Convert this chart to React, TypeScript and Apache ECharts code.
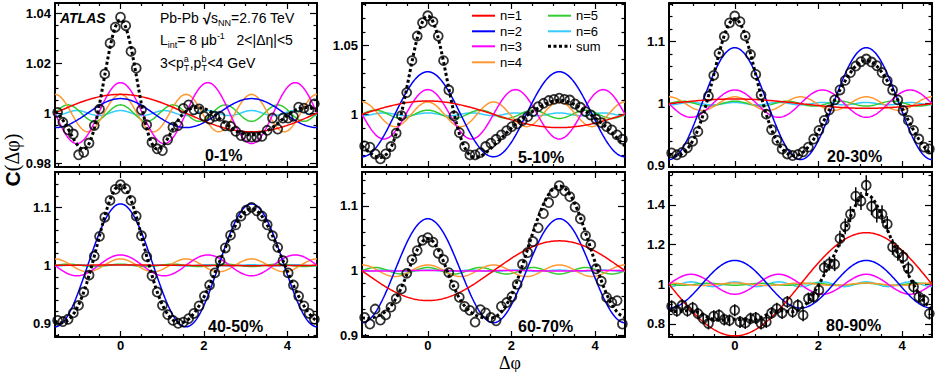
import React, { useEffect, useRef } from "react";
import * as echarts from "echarts";

const FONT = '"Liberation Sans", Arial, Helvetica, sans-serif';
const SERIF = '"Liberation Serif", "Times New Roman", serif';

// ---------------- data ----------------
const PHI_MIN = -Math.PI / 2;
const PHI_MAX = (3 * Math.PI) / 2;
const N_BINS = 50;
const dphiBins = Array.from({ length: N_BINS }, (_, i) => PHI_MIN + ((i + 0.5) * 2 * Math.PI) / N_BINS);

const centralityLabels = ["0-1%", "5-10%", "20-30%", "40-50%", "60-70%", "80-90%"];
const harmonicLabels = ["n=1", "n=2", "n=3", "n=4", "n=5", "n=6"];
const sumLabel = "sum";
const xTickValues = [0, 2, 4];

// measured correlation C(Δφ), 50 bins in [-π/2, 3π/2]
const c0_1 = [
  1.0003, 0.9963, 0.9933, 0.9916, 0.9833, 0.9843, 0.988, 0.995, 1.0016, 1.0157,
  1.028, 1.0344, 1.0384, 1.035, 1.0247, 1.018, 1.0013, 0.9953, 0.9883, 0.9857,
  0.985, 0.9893, 0.9943, 0.995, 1.0019, 1.0033, 1.0013, 1.0017, 0.9987, 0.9976,
  0.9987, 0.9987, 0.9949, 0.9947, 0.9927, 0.991, 0.9904, 0.9904, 0.9904, 0.9907,
  0.9931, 0.998, 0.9936, 0.998, 0.998, 0.9987, 1.0024, 1.002, 1.0013, 1.0037,
];
const c5_10 = [
  0.9769, 0.976, 0.9711, 0.9675, 0.9711, 0.9765, 0.9862, 0.999, 1.0158, 1.0391,
  1.057, 1.0667, 1.0718, 1.0675, 1.057, 1.0391, 1.0177, 0.9988, 0.9867, 0.9765,
  0.9704, 0.9704, 0.9721, 0.9765, 0.9789, 0.9818, 0.985, 0.9881, 0.991, 0.993,
  0.9954, 0.9983, 1.0019, 1.0056, 1.008, 1.01, 1.0109, 1.0117, 1.0109, 1.0104,
  1.0075, 1.0051, 1.0019, 0.9995, 0.9964, 0.9939, 0.991, 0.9886, 0.985, 0.9818,
];
const c20_30 = [
  0.9207, 0.9176, 0.9215, 0.929, 0.9395, 0.955, 0.979, 1.012, 1.0455, 1.081,
  1.108, 1.13, 1.141, 1.132, 1.109, 1.079, 1.047, 1.014, 0.983, 0.958,
  0.941, 0.927, 0.919, 0.9165, 0.918, 0.9225, 0.93, 0.943, 0.957, 0.973,
  0.99, 1.006, 1.022, 1.0375, 1.05, 1.0605, 1.0675, 1.0718, 1.067, 1.061,
  1.05, 1.037, 1.022, 1.006, 0.989, 0.973, 0.957, 0.943, 0.93, 0.927,
];
const c40_50 = [
  0.905, 0.903, 0.907, 0.918, 0.931, 0.954, 0.983, 1.016, 1.05, 1.083,
  1.112, 1.131, 1.139, 1.132, 1.112, 1.085, 1.051, 1.015, 0.982, 0.954,
  0.931, 0.915, 0.905, 0.9, 0.902, 0.908, 0.917, 0.93, 0.947, 0.966,
  0.987, 1.008, 1.03, 1.052, 1.07, 1.085, 1.095, 1.1, 1.094, 1.085,
  1.07, 1.051, 1.031, 1.008, 0.987, 0.966, 0.947, 0.93, 0.917, 0.907,
];
const c60_70 = [
  0.928, 0.918, 0.941, 0.924, 0.932, 0.944, 0.957, 0.972, 0.996, 1.017,
  1.031, 1.047, 1.051, 1.044, 1.027, 1.017, 0.997, 0.977, 0.959, 0.945,
  0.939, 0.921, 0.94, 0.935, 0.928, 0.923, 0.945, 0.951, 0.96, 0.979,
  1.01, 1.028, 1.045, 1.066, 1.088, 1.105, 1.12, 1.131, 1.123, 1.114,
  1.098, 1.08, 1.054, 1.04, 1.003, 0.984, 0.959, 0.951, 0.954, 0.918,
];
const c80_90 = [
  0.889, 0.866, 0.894, 0.866, 0.881, 0.852, 0.827, 0.802, 0.839, 0.844,
  0.822, 0.818, 0.869, 0.81, 0.805, 0.827, 0.83, 0.802, 0.81, 0.855,
  0.877, 0.855, 0.911, 0.861, 0.894, 0.844, 0.928, 0.936, 0.97, 1.084,
  1.104, 1.101, 1.23, 1.292, 1.353, 1.444, 1.42, 1.499, 1.393, 1.356,
  1.353, 1.303, 1.188, 1.158, 1.138, 1.079, 0.987, 0.936, 0.919, 0.852,
];
const err80_90 = [
  0.03, 0.03, 0.03, 0.03, 0.03, 0.03, 0.03, 0.03, 0.03, 0.03,
  0.03, 0.03, 0.03, 0.03, 0.03, 0.03, 0.03, 0.03, 0.03, 0.03,
  0.03, 0.03, 0.03, 0.03, 0.03, 0.03, 0.03, 0.03, 0.035, 0.035,
  0.035, 0.035, 0.04, 0.04, 0.04, 0.045, 0.045, 0.05, 0.045, 0.045,
  0.045, 0.04, 0.04, 0.04, 0.035, 0.035, 0.035, 0.03, 0.03, 0.03,
];

// Fourier amplitudes 2v_{n,n} for n = 1..6 (component = 1 + a_n cos(nΔφ))
const amp0_1 = [0.0075, 0.0058, 0.0122, 0.0075, 0.0033, 0.001];
const amp5_10 = [0.0097, 0.031, 0.018, 0.009, 0.003, 0.001];
const amp20_30 = [0.0075, 0.09, 0.022, 0.011, 0.004, 0.002];
const amp40_50 = [0.0005, 0.106, 0.018, 0.011, 0.002, 0.001];
const amp60_70 = [-0.046, 0.08, 0.0005, 0.009, 0.005, 0.001];
const amp80_90 = [-0.26, 0.12, -0.05, 0.006, -0.005, 0.012];

// y-axis tick labels
const yTicks0_1 = [0.98, 1, 1.02, 1.04];
const yTicks5_10 = [1, 1.05];
const yTicks20_30 = [0.9, 1, 1.1];
const yTicks40_50 = [0.9, 1, 1.1];
const yTicks60_70 = [0.9, 1, 1.1];
const yTicks80_90 = [0.8, 1, 1.2, 1.4];

// ---------------- layout / style ----------------
const yRanges = [
  [0.9784, 1.0441],
  [0.9616, 1.0811],
  [0.898, 1.162],
  [0.8764, 1.161],
  [0.898, 1.152],
  [0.734, 1.566],
];
const yMinorSteps = [0.005, 0.01, 0.02, 0.02, 0.02, 0.05];
const gridBoxes = [
  { left: 55, top: 3, width: 262, height: 164 },
  { left: 362, top: 3, width: 263, height: 164 },
  { left: 669, top: 3, width: 263, height: 164 },
  { left: 55, top: 172, width: 262, height: 165 },
  { left: 362, top: 172, width: 263, height: 165 },
  { left: 669, top: 172, width: 263, height: 165 },
];
const labelPos = [
  [205, 155],
  [518, 157],
  [827, 156],
  [208, 326],
  [518, 326],
  [826, 325],
];
const harmonicColors = ["#ff0000", "#0000ff", "#ff00ff", "#ff9933", "#33cc33", "#33ccff"];

function minorValues(lo: number, hi: number, step: number, majors: number[]) {
  const out: number[] = [];
  const k0 = Math.ceil(lo / step - 1e-9);
  const k1 = Math.floor(hi / step + 1e-9);
  for (let k = k0; k <= k1; k++) {
    const v = +(k * step).toFixed(6);
    if (!majors.some((m) => Math.abs(m - v) < 1e-9)) out.push(v);
  }
  return out;
}

function buildOption() {
  const panelValues = [c0_1, c5_10, c20_30, c40_50, c60_70, c80_90];
  const panelAmps = [amp0_1, amp5_10, amp20_30, amp40_50, amp60_70, amp80_90];
  const panelYTicks = [yTicks0_1, yTicks5_10, yTicks20_30, yTicks40_50, yTicks60_70, yTicks80_90];
  const panelErr: (number[] | null)[] = [null, null, null, null, null, err80_90];

  const xMinor = minorValues(PHI_MIN, PHI_MAX, 0.5, xTickValues);
  const NS = 241;
  const xs = Array.from({ length: NS }, (_, j) => PHI_MIN + (j * (PHI_MAX - PHI_MIN)) / (NS - 1));

  const tickStyle = { color: "#000", width: 1.2 };
  const frameStyle = { color: "#000", width: 2 };
  const labelStyle = { color: "#000", fontSize: 13, fontWeight: "bold", fontFamily: FONT };

  const grid: any[] = [];
  const xAxis: any[] = [];
  const yAxis: any[] = [];
  const series: any[] = [];

  for (let g = 0; g < 6; g++) {
    grid.push({ ...gridBoxes[g], containLabel: false, outerBoundsMode: "none" });
    const bottomRow = g >= 3;
    const xCommon = { type: "value", gridIndex: g, min: PHI_MIN, max: PHI_MAX, splitLine: { show: false } };
    xAxis.push(
      {
        ...xCommon,
        position: "bottom",
        axisLine: { show: true, onZero: false, lineStyle: frameStyle },
        axisTick: { show: true, inside: true, length: 6, lineStyle: tickStyle, customValues: xTickValues },
        axisLabel: { show: bottomRow, customValues: xTickValues, margin: 2, lineHeight: 13, ...labelStyle },
      },
      {
        ...xCommon,
        position: "bottom",
        axisLine: { show: false, onZero: false },
        axisTick: { show: true, inside: true, length: 3, lineStyle: tickStyle, customValues: xMinor },
        axisLabel: { show: false },
      },
      {
        ...xCommon,
        position: "top",
        axisLine: { show: true, onZero: false, lineStyle: frameStyle },
        axisTick: { show: true, inside: true, length: 6, lineStyle: tickStyle, customValues: xTickValues },
        axisLabel: { show: false },
      },
      {
        ...xCommon,
        position: "top",
        axisLine: { show: false, onZero: false },
        axisTick: { show: true, inside: true, length: 3, lineStyle: tickStyle, customValues: xMinor },
        axisLabel: { show: false },
      }
    );
    const [ymin, ymax] = yRanges[g];
    const yMaj = panelYTicks[g];
    const yMin = minorValues(ymin, ymax, yMinorSteps[g], yMaj);
    const yCommon = { type: "value", gridIndex: g, min: ymin, max: ymax, splitLine: { show: false } };
    yAxis.push(
      {
        ...yCommon,
        position: "left",
        axisLine: { show: true, onZero: false, lineStyle: frameStyle },
        axisTick: { show: true, inside: true, length: 7, lineStyle: tickStyle, customValues: yMaj },
        axisLabel: { show: true, customValues: yMaj, margin: 4, ...labelStyle },
      },
      {
        ...yCommon,
        position: "left",
        axisLine: { show: false, onZero: false },
        axisTick: { show: true, inside: true, length: 3.5, lineStyle: tickStyle, customValues: yMin },
        axisLabel: { show: false },
      },
      {
        ...yCommon,
        position: "right",
        axisLine: { show: true, onZero: false, lineStyle: frameStyle },
        axisTick: { show: true, inside: true, length: 7, lineStyle: tickStyle, customValues: yMaj },
        axisLabel: { show: false },
      },
      {
        ...yCommon,
        position: "right",
        axisLine: { show: false, onZero: false },
        axisTick: { show: true, inside: true, length: 3.5, lineStyle: tickStyle, customValues: yMin },
        axisLabel: { show: false },
      }
    );

    const amps = panelAmps[g];
    const axisIdx = { xAxisIndex: 4 * g, yAxisIndex: 4 * g };
    for (let n = 6; n >= 1; n--) {
      const a = amps[n - 1];
      series.push({
        type: "line",
        name: harmonicLabels[n - 1],
        ...axisIdx,
        data: xs.map((x) => [x, 1 + a * Math.cos(n * x)]),
        showSymbol: false,
        symbol: "none",
        silent: true,
        lineStyle: { color: harmonicColors[n - 1], width: 1.5 },
        z: 2,
      });
    }
    series.push({
      type: "line",
      name: sumLabel,
      ...axisIdx,
      data: xs.map((x) => {
        let s = 1;
        for (let n = 1; n <= 6; n++) s += amps[n - 1] * Math.cos(n * x);
        return [x, s];
      }),
      showSymbol: false,
      symbol: "none",
      silent: true,
      lineStyle: { color: "#000", width: 3, type: [3, 2.5] },
      z: 3,
    });
    const vals = panelValues[g];
    const errs = panelErr[g];
    if (errs) {
      series.push({
        type: "custom",
        coordinateSystem: "cartesian2d",
        ...axisIdx,
        silent: true,
        z: 4,
        data: dphiBins.map((x, i) => [x, vals[i] - errs[i], vals[i] + errs[i]]),
        renderItem: (_params: any, api: any) => {
          const p1 = api.coord([api.value(0), api.value(1)]);
          const p2 = api.coord([api.value(0), api.value(2)]);
          return {
            type: "line",
            shape: { x1: p1[0], y1: p1[1], x2: p2[0], y2: p2[1] },
            style: { stroke: "#000", lineWidth: 1.5 },
          };
        },
      });
    }
    series.push({
      type: "scatter",
      name: centralityLabels[g],
      ...axisIdx,
      data: dphiBins.map((x, i) => [x, vals[i]]),
      symbol: "circle",
      symbolSize: 9,
      silent: true,
      itemStyle: { color: "rgba(0,0,0,0)", borderColor: "#000", borderWidth: 1.8 },
      z: 5,
    });
  }

  const graphic: any[] = [];
  const txt = (x: number, y: number, style: any, extra: any = {}) => ({
    type: "text",
    x,
    y,
    z: 100,
    silent: true,
    ...extra,
    style: { fill: "#000", verticalAlign: "middle", textVerticalAlign: "middle", ...style },
  });

  // centrality labels
  centralityLabels.forEach((t, g) => {
    graphic.push(
      txt(labelPos[g][0], labelPos[g][1], { text: t, fontSize: 16, fontWeight: "bold", fontFamily: FONT })
    );
  });

  // ATLAS + info text in first panel
  graphic.push(
    txt(60, 18, { text: "ATLAS", fontSize: 14, fontWeight: "bold", fontStyle: "italic", fontFamily: FONT })
  );
  const rich = {
    n: { fontSize: 14, lineHeight: 18, fontFamily: FONT, fill: "#000" },
    r: { fontSize: 15, lineHeight: 18, fontFamily: FONT, fontWeight: "bold", fill: "#000" },
    sub: { fontSize: 9, lineHeight: 9, fontFamily: FONT, verticalAlign: "bottom", fill: "#000" },
    sup: { fontSize: 9, lineHeight: 9, fontFamily: FONT, verticalAlign: "top", fill: "#000" },
    subw: { fontSize: 9, lineHeight: 9, fontFamily: FONT, verticalAlign: "bottom", width: 0, fill: "#000" },
    supw: { fontSize: 9, lineHeight: 9, fontFamily: FONT, verticalAlign: "top", width: 6, fill: "#000" },
  };
  graphic.push(
    txt(160, 18, { text: "{n|Pb-Pb }{r|√}{n|s}{sub|NN}{n|=2.76 TeV}", rich, fontFamily: FONT, fontSize: 14 }),
    txt(160, 40, { text: "{n|L}{sub|int}{n|= 8 μb}{sup|-1}{n|   2<|Δη|<5}", rich, fontFamily: FONT, fontSize: 14 }),
    txt(160, 63, {
      text: "{n|3<p}{subw|T}{supw|a}{n|,p}{subw|T}{supw|b}{n|<4 GeV}",
      rich,
      fontFamily: FONT,
      fontSize: 14,
    })
  );

  // legend (panel 2)
  const legendRows = [15.7, 31.3, 46.3, 62.3];
  for (let n = 0; n < 6; n++) {
    const col = n < 4 ? 0 : 1;
    const row = n < 4 ? n : n - 4;
    const x0 = col === 0 ? 472 : 548;
    const y = legendRows[row];
    graphic.push({
      type: "line",
      z: 100,
      silent: true,
      shape: { x1: x0, y1: y, x2: x0 + 23, y2: y },
      style: { stroke: harmonicColors[n], lineWidth: 2 },
    });
    graphic.push(txt(x0 + 28, y, { text: harmonicLabels[n], fontSize: 13, fontFamily: FONT }));
  }
  graphic.push({
    type: "line",
    z: 100,
    silent: true,
    shape: { x1: 548, y1: legendRows[2], x2: 571, y2: legendRows[2] },
    style: { stroke: "#000", lineWidth: 3, lineDash: [3, 2.5] },
  });
  graphic.push(txt(576, legendRows[2], { text: sumLabel, fontSize: 13, fontFamily: FONT }));

  // axis titles
  graphic.push(
    txt(
      12,
      160,
      {
        text: "{c|C}{p|(Δφ)}",
        align: "center",
        textAlign: "center",
        rich: {
          c: { fontSize: 21, fontWeight: "bold", fontFamily: FONT, fill: "#000", lineHeight: 24 },
          p: { fontSize: 20, fontFamily: SERIF, fill: "#000", lineHeight: 24 },
        },
      },
      { rotation: Math.PI / 2 }
    ),
    txt(510, 363, {
      text: "Δφ",
      fontSize: 18,
      lineHeight: 15,
      fontFamily: SERIF,
      align: "center",
      textAlign: "center",
    })
  );

  return {
    animation: false,
    backgroundColor: "#fff",
    grid,
    xAxis,
    yAxis,
    series,
    graphic,
  };
}

export default function App() {
  const ref = useRef<HTMLDivElement>(null);
  useEffect(() => {
    if (!ref.current) return;
    const chart = echarts.init(ref.current, undefined, { renderer: "svg" });
    chart.setOption(buildOption() as any);
    return () => chart.dispose();
  }, []);
  return (
    <div
      ref={ref}
      style={{ position: "fixed", left: 0, top: 0, width: 941, height: 372, background: "#fff" }}
    />
  );
}
